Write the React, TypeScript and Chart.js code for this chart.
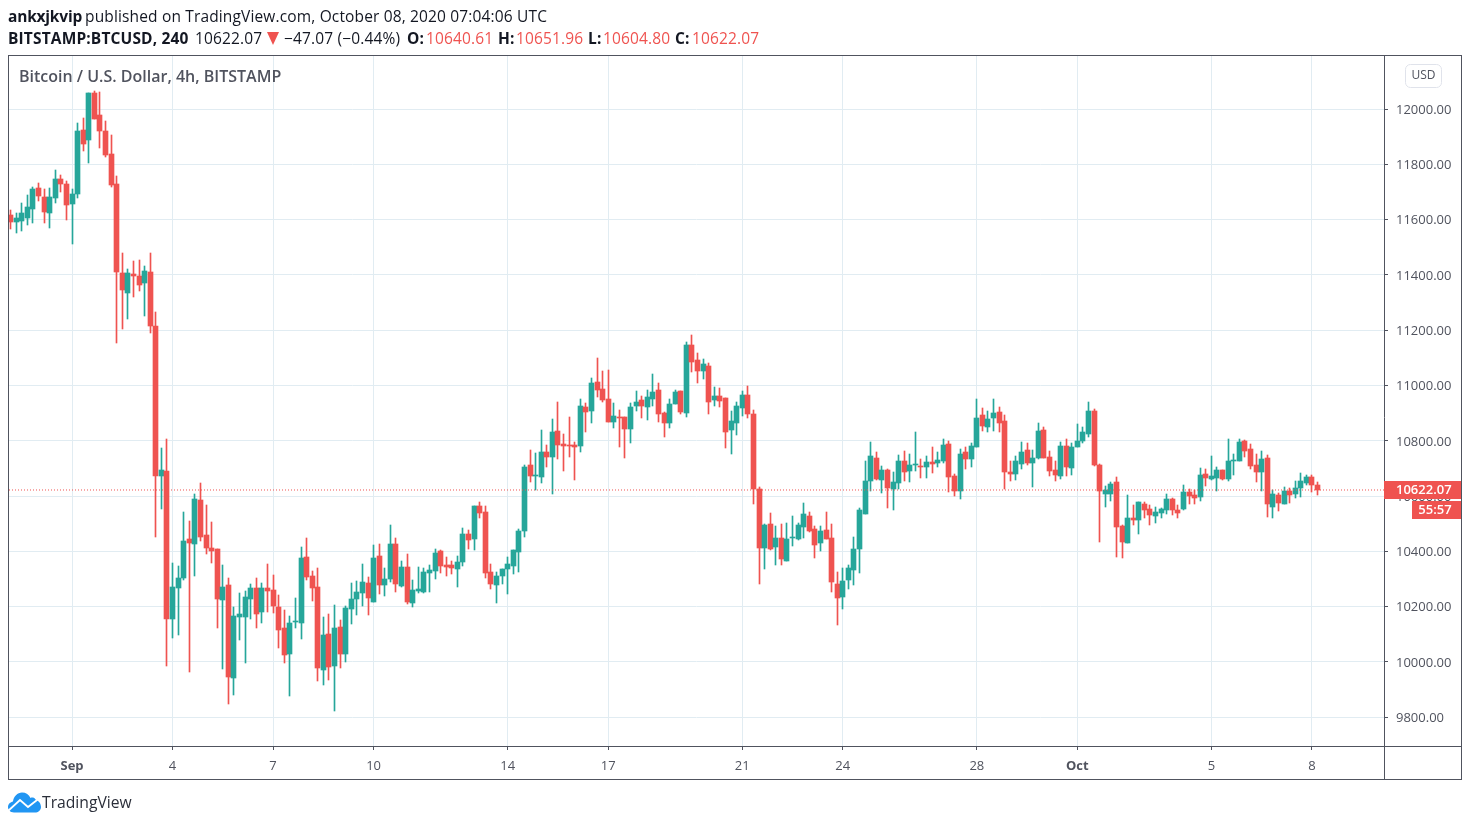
import { useEffect, useRef } from 'react';
import { Chart, registerables } from 'chart.js';

Chart.register(...registerables);

// bar number of the first candle, counted from the 4h bar of Sep 1 00:00
const firstBar = -11;

const opens = [
  11617,11591,11595,11606,11639,11714,11682,11624,11678,11747,
  11729,11657,11693,11924,11888,12058,11978,11920,11837,11729,
  11407,11335,11404,11396,11371,11411,11216,10673,10691,10156,
  10268,10305,10446,10427,10587,10460,10413,10409,10225,10279,
  9943,10164,10164,10229,10268,10182,10268,10261,10200,10124,
  10030,10146,10142,10380,10312,10272,9972,10102,9986,10127,
  10030,10192,10229,10250,10286,10218,10384,10279,10301,10427,
  10276,10344,10214,10258,10254,10323,10330,10402,10351,10351,
  10337,10362,10464,10445,10565,10543,10326,10279,10312,10337,
  10348,10398,10474,10713,10673,10670,10760,10742,10836,10789,
  10785,10785,10782,10923,10908,11013,10988,10952,10869,10887,
  10887,10843,10926,10948,10923,10952,10984,10901,10865,10934,
  10981,10901,11147,11093,11053,11071,10948,10963,10955,10840,
  10865,10919,10966,10897,10626,10413,10500,10417,10449,10366,
  10449,10446,10489,10529,10482,10431,10478,10449,10283,10236,
  10297,10333,10409,10536,10655,10738,10659,10695,10626,10648,
  10728,10691,10713,10709,10706,10724,10720,10728,10789,10673,
  10619,10760,10735,10778,10894,10850,10883,10905,10872,10688,
  10681,10717,10767,10720,10738,10840,10742,10695,10673,10782,
  10702,10778,10800,10825,10908,10713,10608,10608,10652,10493,
  10431,10521,10514,10572,10554,10529,10539,10550,10590,10550,
  10554,10615,10604,10597,10680,10662,10666,10695,10662,10727,
  10727,10800,10771,10713,10688,10738,10561,10604,10572,10619,
  10608,10630,10648,10670,10640.61,
];

const highs = [
  11635,11624,11660,11689,11718,11733,11711,11714,11779,11761,
  11740,11711,11949,11967,12058,12065,12061,11957,11906,11758,
  11479,11422,11451,11454,11432,11479,11266,10775,10807,10359,
  10348,10543,10511,10608,10648,10568,10507,10409,10352,10305,
  10200,10250,10258,10283,10305,10287,10355,10315,10243,10189,
  10167,10232,10417,10449,10330,10341,10164,10174,10207,10153,
  10203,10286,10294,10355,10308,10424,10427,10341,10496,10449,
  10366,10391,10297,10344,10341,10351,10409,10406,10380,10366,
  10384,10485,10478,10565,10579,10565,10355,10326,10337,10380,
  10406,10482,10713,10767,10756,10840,10785,10879,10941,10825,
  10887,10796,10952,10937,11028,11100,11053,11057,10937,10912,
  10887,10937,10981,10963,10984,11042,11010,10905,10952,10984,
  10981,11158,11183,11118,11096,11082,10995,10991,10955,10908,
  10941,10981,10999,10912,10634,10500,10540,10493,10500,10503,
  10529,10503,10576,10543,10493,10493,10543,10500,10326,10341,
  10352,10453,10558,10728,10796,10760,10709,10699,10688,10749,
  10764,10753,10832,10735,10746,10778,10760,10807,10800,10681,
  10771,10778,10793,10952,10919,10908,10952,10923,10894,10728,
  10746,10796,10793,10767,10865,10850,10764,10728,10796,10807,
  10793,10861,10850,10941,10916,10717,10637,10652,10670,10496,
  10605,10568,10579,10579,10568,10561,10558,10608,10594,10568,
  10641,10626,10623,10702,10699,10746,10706,10695,10807,10753,
  10807,10803,10789,10753,10764,10749,10623,10612,10633,10630,
  10655,10684,10677,10677,10651.96,
];

const lows = [
  11566,11552,11559,11581,11588,11667,11588,11570,11660,11700,
  11599,11512,11678,11848,11805,11964,11859,11827,11718,11154,
  11205,11241,11320,11342,11252,11190,10453,10554,9986,10088,
  10099,10297,9965,10312,10438,10391,10359,10124,9976,9849,
  9882,10080,9997,10156,10124,10142,10182,10178,10051,9997,
  9878,10124,10084,10297,10221,9932,9918,9936,9824,9979,
  10001,10138,10171,10203,10171,10218,10247,10239,10290,10254,
  10272,10210,10200,10250,10250,10254,10301,10323,10312,10319,
  10272,10348,10409,10406,10521,10305,10265,10214,10283,10247,
  10319,10326,10453,10652,10623,10648,10706,10608,10735,10691,
  10742,10659,10760,10832,10865,10959,10941,10869,10847,10778,
  10738,10793,10908,10883,10876,10926,10869,10814,10847,10934,
  10897,10887,11049,11010,11024,10897,10926,10923,10775,10753,
  10822,10890,10883,10572,10283,10337,10406,10352,10352,10366,
  10420,10442,10449,10471,10377,10402,10446,10254,10135,10192,
  10265,10279,10323,10536,10619,10659,10612,10558,10550,10626,
  10655,10652,10691,10666,10666,10684,10706,10720,10615,10601,
  10590,10699,10706,10778,10836,10832,10836,10832,10626,10655,
  10659,10699,10713,10634,10735,10738,10673,10655,10662,10673,
  10677,10778,10793,10814,10709,10435,10561,10583,10381,10377,
  10431,10496,10464,10521,10496,10503,10521,10536,10532,10521,
  10550,10572,10572,10583,10637,10659,10619,10659,10655,10677,
  10727,10742,10698,10652,10619,10525,10521,10547,10572,10576,
  10594,10597,10641,10615,10604.80,
];

const closes = [
  11591,11606,11624,11646,11711,11686,11628,11682,11747,11729,
  11653,11693,11920,11873,12058,11964,11920,11834,11725,11411,
  11346,11407,11396,11364,11414,11216,10673,10695,10156,10272,
  10305,10438,10431,10590,10453,10413,10402,10229,10272,9947,
  10167,10174,10236,10268,10174,10268,10258,10203,10117,10026,
  10142,10149,10377,10308,10268,9979,10099,9983,10124,10030,
  10196,10229,10254,10290,10232,10377,10279,10301,10427,10283,
  10344,10218,10261,10265,10326,10333,10395,10348,10344,10341,
  10362,10464,10442,10565,10539,10323,10283,10312,10337,10355,
  10406,10474,10706,10673,10677,10760,10742,10832,10785,10782,
  10782,10778,10926,10905,11010,10984,10948,10869,10890,10884,
  10843,10923,10941,10926,10959,10977,10897,10865,10934,10977,
  10905,11147,11085,11053,11078,10941,10963,10944,10832,10872,
  10926,10966,10897,10626,10413,10496,10409,10449,10373,10446,
  10453,10496,10536,10474,10424,10474,10446,10290,10232,10294,
  10341,10409,10550,10655,10746,10662,10695,10630,10652,10728,
  10688,10713,10717,10706,10724,10717,10731,10785,10670,10619,
  10753,10735,10782,10883,10854,10879,10901,10865,10688,10681,
  10728,10760,10720,10738,10836,10738,10691,10677,10782,10706,
  10778,10800,10832,10908,10713,10619,10623,10644,10489,10435,
  10521,10514,10579,10550,10532,10543,10554,10590,10550,10539,
  10615,10601,10594,10677,10666,10673,10695,10662,10727,10731,
  10796,10764,10709,10688,10735,10572,10608,10576,10619,10604,
  10630,10655,10670,10641,10622.07,
];

const dateTickBars = [0, 18, 36, 54, 78, 96, 120, 138, 162, 180, 204, 222];
const dateTickLabels = ['Sep', '4', '7', '10', '14', '17', '21', '24', '28', 'Oct', '5', '8'];
const priceTicks = [9800, 10000, 10200, 10400, 10600, 10800, 11000, 11200, 11400, 11600, 11800, 12000];
const lastPrice = 10622.07;
const countdown = '55:57';

const RED = '#ef5350';
const GREEN = '#26a69a';
const FRAME = '#50535e';
const GRID = '#e1ecf2';
const FONT = '"Open Sans", sans-serif';

const barNumbers = opens.map((_, i) => firstBar + i);
const candleColors = opens.map((o, i) => (closes[i] >= o ? GREEN : RED));

// keeps the candles on whole pixels, the way the original renders them
const crispBars = {
    id: 'crispBars',
    afterDatasetsUpdate(chart: any) {
        chart.data.datasets.forEach((_: any, d: number) => {
            const meta = chart.getDatasetMeta(d);
            if (meta.type !== 'bar') return;
            meta.data.forEach((el: any) => {
                el.x = Math.floor(el.x) + 0.5;
                el.y = Math.round(el.y);
                el.base = Math.round(el.base);
                if (el.y === el.base) el.base = el.y + 1;
            });
        });
    },
};

// outer frame and the axis boxes
const frame = {
    id: 'frame',
    afterDraw(chart: any) {
        const { ctx, chartArea, width, height } = chart;
        ctx.save();
        ctx.strokeStyle = FRAME;
        ctx.lineWidth = 1;
        ctx.strokeRect(chartArea.left - 0.5, chartArea.top - 0.5, width - 9 - chartArea.left + 1, height - 47 - chartArea.top + 1);
        ctx.beginPath();
        ctx.moveTo(chartArea.right + 0.5, chartArea.top);
        ctx.lineTo(chartArea.right + 0.5, height - 47);
        ctx.moveTo(chartArea.left, chartArea.bottom + 0.5);
        ctx.lineTo(width - 9, chartArea.bottom + 0.5);
        ctx.stroke();
        ctx.restore();
    },
};

// last price tag, countdown tag and the currency button on the price axis
const priceTags = {
    id: 'priceTags',
    afterDraw(chart: any) {
        const { ctx, chartArea, width } = chart;
        const y = Math.round(chart.scales.y.getPixelForValue(lastPrice));
        const axisRight = width - 9;
        ctx.save();
        ctx.fillStyle = RED;
        ctx.fillRect(chartArea.right, y - 9, axisRight - chartArea.right, 18);
        ctx.fillRect(axisRight - 49, y + 11, 49, 18);
        ctx.fillStyle = '#ffffff';
        ctx.font = `600 13px ${FONT}`;
        ctx.textAlign = 'left';
        ctx.textBaseline = 'middle';
        ctx.fillText(lastPrice.toFixed(2), chartArea.right + 12, y + 0.5);
        ctx.textAlign = 'center';
        ctx.fillText(countdown, axisRight - 26, y + 20.5);

        ctx.strokeStyle = '#e0e3eb';
        ctx.beginPath();
        ctx.roundRect(chartArea.right + 21.5, chartArea.top + 8.5, 36, 23, 5);
        ctx.stroke();
        ctx.fillStyle = FRAME;
        ctx.font = `12px ${FONT}`;
        ctx.fillText('USD', chartArea.right + 39.5, chartArea.top + 20);
        ctx.restore();
    },
};

const PriceChart = () => {
    const canvasRef = useRef<HTMLCanvasElement | null>(null);

    useEffect(() => {
        if (!canvasRef.current) return;
        const ctx = canvasRef.current.getContext('2d');
        if (!ctx) return;

        const xMin = -11.28;
        const xMax = 234.9;

        const chart = new Chart(ctx, {
            type: 'bar',
            data: {
                datasets: [
                    {
                        type: 'line',
                        data: [{ x: xMin, y: lastPrice }, { x: xMax, y: lastPrice }],
                        borderColor: RED,
                        borderWidth: 1,
                        borderDash: [1, 2],
                        pointRadius: 0,
                        order: 0,
                    },
                    {
                        data: barNumbers.map((x, i) => ({ x, y: [opens[i], closes[i]] })),
                        backgroundColor: candleColors,
                        barThickness: 5,
                        grouped: false,
                        order: 1,
                    },
                    {
                        data: barNumbers.map((x, i) => ({ x, y: [lows[i], highs[i]] })),
                        backgroundColor: candleColors,
                        barThickness: 1,
                        grouped: false,
                        order: 2,
                    },
                ],
            } as any,
            options: {
                responsive: false,
                animation: false,
                events: [],
                layout: { padding: { left: 9, top: 56, right: 9, bottom: 47 } },
                plugins: { legend: { display: false }, tooltip: { enabled: false } },
                scales: {
                    x: {
                        type: 'linear',
                        min: xMin,
                        max: xMax,
                        offset: false,
                        border: { display: false },
                        grid: { color: GRID, tickColor: FRAME, tickLength: 4, offset: false },
                        afterBuildTicks: (axis: any) => {
                            axis.ticks = dateTickBars.map((value) => ({ value }));
                        },
                        afterFit: (axis: any) => {
                            axis.height = 33;
                        },
                        ticks: {
                            autoSkip: false,
                            maxRotation: 0,
                            color: FRAME,
                            padding: 8,
                            font: (c: any) => ({
                                family: FONT,
                                size: 13,
                                weight: dateTickBars.indexOf(c.tick?.value) % 9 === 0 ? 700 : 400,
                            }),
                            callback: (value: any) => dateTickLabels[dateTickBars.indexOf(Number(value))],
                        },
                    },
                    y: {
                        position: 'right',
                        min: 9696,
                        max: 12192,
                        border: { display: false },
                        grid: { color: GRID, tickColor: FRAME, tickLength: 4 },
                        afterBuildTicks: (axis: any) => {
                            axis.ticks = priceTicks.map((value) => ({ value }));
                        },
                        afterFit: (axis: any) => {
                            axis.width = 77;
                        },
                        ticks: {
                            color: FRAME,
                            padding: 8,
                            labelOffset: 1,
                            font: { family: FONT, size: 13 },
                            callback: (value: any) => Number(value).toFixed(2),
                        },
                    },
                },
            },
            plugins: [crispBars, frame, priceTags],
        } as any);

        return () => {
            chart.destroy();
        };
    }, []);

    return <canvas ref={canvasRef} width={1470} height={826} style={{ display: 'block' }} />;
};

const Txt = ({ x, y, children, color = '#131722', weight = 400, size = 15.5, spacing = 0.15 }: any) => (
    <span
        style={{
            position: 'absolute',
            left: x,
            top: y,
            color,
            fontWeight: weight,
            fontSize: size,
            letterSpacing: spacing,
            lineHeight: '20px',
            whiteSpace: 'pre',
            fontFamily: FONT,
        }}
    >
        {children}
    </span>
);

const App = () => (
    <div style={{ position: 'absolute', left: 0, top: 0, width: 1470, height: 826, overflow: 'hidden', background: '#fff' }}>
        <PriceChart />
        <Txt x={8} y={6} weight={700} spacing={-0.2}>ankxjkvip</Txt>
        <Txt x={85} y={6}>published on TradingView.com, October 08, 2020 07:04:06 UTC</Txt>
        <Txt x={8} y={28} weight={700}>BITSTAMP:BTCUSD, 240</Txt>
        <Txt x={195} y={28}>10622.07</Txt>
        <div
            style={{
                position: 'absolute',
                left: 267,
                top: 32,
                width: 0,
                height: 0,
                borderLeft: '6px solid transparent',
                borderRight: '6px solid transparent',
                borderTop: `13px solid ${RED}`,
            }}
        />
        <Txt x={284} y={28}>−47.07 (−0.44%)</Txt>
        <Txt x={407} y={28} weight={700}>O:</Txt>
        <Txt x={426} y={28} color={RED}>10640.61</Txt>
        <Txt x={498} y={28} weight={700}>H:</Txt>
        <Txt x={516} y={28} color={RED}>10651.96</Txt>
        <Txt x={588} y={28} weight={700}>L:</Txt>
        <Txt x={603} y={28} color={RED}>10604.80</Txt>
        <Txt x={675} y={28} weight={700}>C:</Txt>
        <Txt x={692} y={28} color={RED}>10622.07</Txt>
        <Txt x={19} y={66} color={FRAME} weight={600} size={16} spacing={0}>Bitcoin / U.S. Dollar, 4h, BITSTAMP</Txt>
        <svg style={{ position: 'absolute', left: 8, top: 792 }} width={33} height={21} viewBox="0 0 33 21">
            <path
                d="M6 20.5 C2 20.5 0 17.5 0 15 C0 12 2.5 10 5 9.5 C5.5 4.5 9.5 0.5 14 0.5 C18 0.5 21 2.5 22.5 6 C24 5 26.5 5.5 27.5 7.5 C30.5 8.5 33 11.5 33 15 C33 18.5 30 20.5 27 20.5 Z"
                fill="#2196f3"
            />
            <path d="M0.5 18.5 L12 8 L20 15 L31 6.5" fill="none" stroke="#fff" strokeWidth={1.8} />
        </svg>
        <Txt x={42} y={792} color="#2a2e39" size={15.7} spacing={0}>TradingView</Txt>
    </div>
);

export default App;
